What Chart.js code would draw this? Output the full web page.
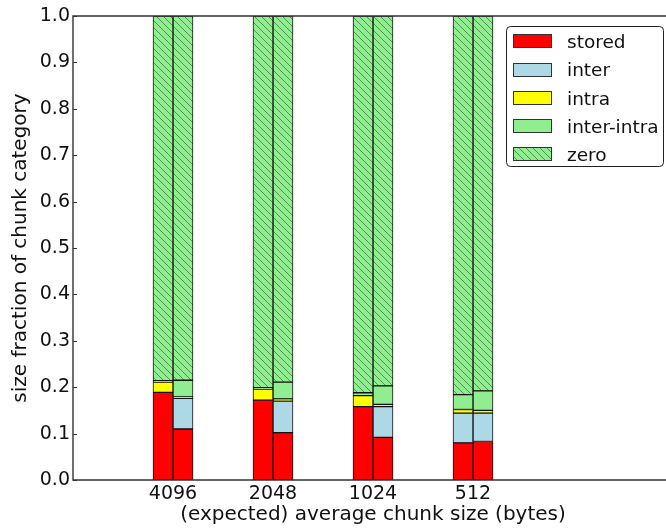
<!DOCTYPE html>
<html>
<head>
<meta charset="utf-8">
<script src="https://cdn.jsdelivr.net/npm/chart.js@4/dist/chart.umd.min.js"></script>
<style>
  html, body { margin: 0; padding: 0; background: #fff; width: 666px; height: 531px; overflow: hidden; }
  #wrap { width: 690px; height: 531px; }
</style>
</head>
<body>
<div id="wrap"><canvas id="chart" width="690" height="531"></canvas></div>
<script>
// Expected average chunk sizes (bytes), one group of two bars each
const chunkSizes = ['4096', '2048', '1024', '512'];
const categoryNames = ['stored', 'inter', 'intra', 'inter-intra', 'zero'];

// Left bar of each pair
const storedA     = [0.189, 0.172, 0.158, 0.080];
const interA      = [0.000, 0.000, 0.000, 0.064];
const intraA      = [0.022, 0.024, 0.024, 0.008];
const interIntraA = [0.003, 0.003, 0.006, 0.032];
const zeroA       = [0.786, 0.801, 0.812, 0.816];

// Right bar of each pair
const storedB     = [0.110, 0.102, 0.092, 0.083];
const interB      = [0.066, 0.068, 0.066, 0.061];
const intraB      = [0.003, 0.005, 0.005, 0.006];
const interIntraB = [0.036, 0.036, 0.040, 0.042];
const zeroB       = [0.785, 0.789, 0.797, 0.808];

const yTicks = [0.0, 0.1, 0.2, 0.3, 0.4, 0.5, 0.6, 0.7, 0.8, 0.9, 1.0];

const FONT = "'DejaVu Sans', 'Liberation Sans', sans-serif";
const INK = '#111';
const FRAME = '#333';

// Diagonal hatch on light green for the "zero" category
function makeHatch() {
  const s = 7;
  const c = document.createElement('canvas');
  c.width = s; c.height = s;
  const g = c.getContext('2d');
  g.fillStyle = '#90ee90';
  g.fillRect(0, 0, s, s);
  g.strokeStyle = '#4f944f';
  g.lineWidth = 1;
  for (const x0 of [-s, 0, s]) {
    g.beginPath();
    g.moveTo(x0, 0);
    g.lineTo(x0 + s, s);
    g.stroke();
  }
  return g.createPattern(c, 'repeat');
}
const hatch = makeHatch();
const fills = ['#ff0000', '#add8e6', '#ffff00', '#90ee90', hatch];

// Category axis with empty slots on both sides so each group sits at 1..4 of 0..6
const axisLabels = ['', ...chunkSizes, '', ''];
const pad = arr => [null, ...arr, null, null];

const seriesA = [storedA, interA, intraA, interIntraA, zeroA];
const seriesB = [storedB, interB, intraB, interIntraB, zeroB];

const datasets = [];
[['A', seriesA], ['B', seriesB]].forEach(([stack, series]) => {
  series.forEach((values, i) => {
    datasets.push({
      label: categoryNames[i],
      stack: stack,
      data: pad(values),
      backgroundColor: fills[i],
      borderColor: '#111',
      borderWidth: 1,
      borderSkipped: false,
      barThickness: 20
    });
  });
});

// Left, top and bottom spines with inward y tick marks
const framePlugin = {
  id: 'frame',
  afterDatasetsDraw(chart) {
    const { ctx, chartArea: a } = chart;
    const y = chart.scales.y;
    const xr = a.right;
    ctx.save();
    ctx.strokeStyle = FRAME;
    ctx.lineWidth = 1.4;
    ctx.beginPath();
    ctx.moveTo(xr, a.top);
    ctx.lineTo(a.left, a.top);
    ctx.lineTo(a.left, a.bottom);
    ctx.lineTo(xr, a.bottom);
    ctx.stroke();
    ctx.lineWidth = 1;
    yTicks.forEach(v => {
      const py = Math.round(y.getPixelForValue(v)) + 0.5;
      ctx.beginPath();
      ctx.moveTo(a.left, py);
      ctx.lineTo(a.left + 4, py);
      ctx.stroke();
    });
    ctx.restore();
  }
};

const legendPlugin = {
  id: 'boxLegend',
  afterDraw(chart) {
    const ctx = chart.ctx;
    const x0 = 506.5, y0 = 26.5, w = 157, h = 140, r = 4;
    ctx.save();
    ctx.beginPath();
    ctx.moveTo(x0 + r, y0);
    ctx.lineTo(x0 + w - r, y0);
    ctx.quadraticCurveTo(x0 + w, y0, x0 + w, y0 + r);
    ctx.lineTo(x0 + w, y0 + h - r);
    ctx.quadraticCurveTo(x0 + w, y0 + h, x0 + w - r, y0 + h);
    ctx.lineTo(x0 + r, y0 + h);
    ctx.quadraticCurveTo(x0, y0 + h, x0, y0 + h - r);
    ctx.lineTo(x0, y0 + r);
    ctx.quadraticCurveTo(x0, y0, x0 + r, y0);
    ctx.closePath();
    ctx.fillStyle = '#fff';
    ctx.fill();
    ctx.strokeStyle = '#222';
    ctx.lineWidth = 1;
    ctx.stroke();

    ctx.font = '18.5px ' + FONT;
    ctx.textBaseline = 'alphabetic';
    ctx.textAlign = 'left';
    categoryNames.forEach((name, i) => {
      const cy = 41.3 + i * 28.2;
      ctx.fillStyle = fills[i];
      ctx.fillRect(513, Math.round(cy - 7), 38, 14);
      ctx.strokeStyle = '#333';
      ctx.strokeRect(513.5, Math.round(cy - 7) + 0.5, 38, 13);
      ctx.fillStyle = INK;
      ctx.fillText(name, 567, cy + 6.8);
    });
    ctx.restore();
  }
};

new Chart(document.getElementById('chart'), {
  type: 'bar',
  data: { labels: axisLabels, datasets },
  plugins: [framePlugin, legendPlugin],
  options: {
    responsive: false,
    animation: false,
    devicePixelRatio: 1,
    layout: { padding: { top: 16, right: 17, left: 0, bottom: 0 } },
    plugins: { legend: { display: false }, tooltip: { enabled: false } },
    scales: {
      x: {
        stacked: true,
        offset: false,
        grid: { display: false, drawTicks: false },
        border: { display: false },
        ticks: {
          autoSkip: false, maxRotation: 0, minRotation: 0, padding: 3,
          color: INK, font: { family: FONT, size: 19 }
        },
        title: {
          display: true,
          text: '(expected) average chunk size (bytes)',
          color: INK,
          font: { family: FONT, size: 20 },
          padding: { top: 0, bottom: 4 }
        },
        afterFit: s => { s.height = 51; }
      },
      y: {
        stacked: true,
        min: 0, max: 1,
        grid: { display: false, drawTicks: false },
        border: { display: false },
        afterBuildTicks: s => { s.ticks = yTicks.map(v => ({ value: v })); },
        ticks: {
          padding: 3,
          color: INK,
          font: { family: FONT, size: 19 },
          callback: v => Number(v).toFixed(1)
        },
        title: {
          display: true,
          text: 'size fraction of chunk category',
          color: INK,
          font: { family: FONT, size: 20 },
          padding: { top: 9, bottom: 0 }
        },
        afterFit: s => { s.width = 73; }
      }
    }
  }
});
</script>
</body>
</html>
